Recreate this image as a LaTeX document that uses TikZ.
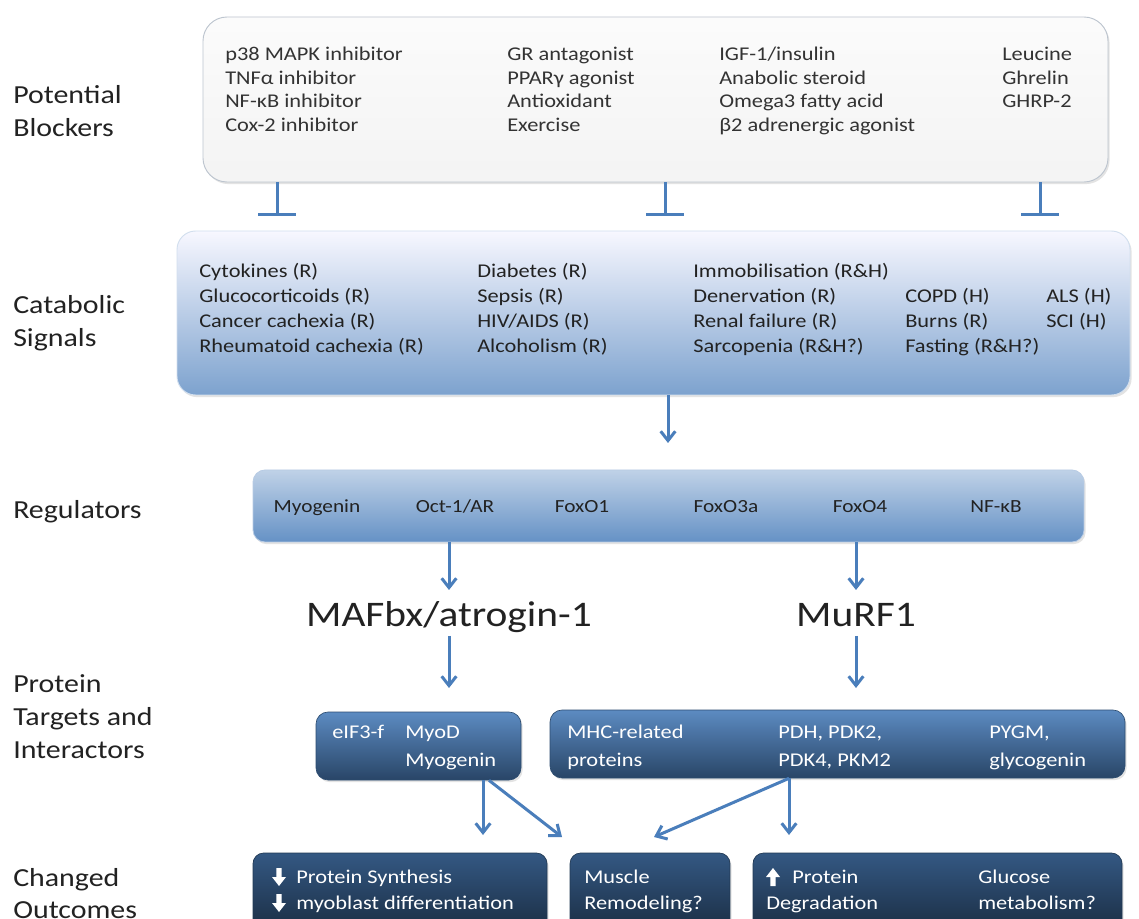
\documentclass[tikz,border=0pt]{standalone}
\usepackage{fontspec}
\setmainfont{Carlito}[FakeStretch=1.15]
\usetikzlibrary{arrows.meta,shadows,fit}
\definecolor{lineblue}{HTML}{4A7EBB}
\definecolor{txtgray}{HTML}{333333}
\definecolor{txtdark}{HTML}{222222}
\begin{document}
\begin{tikzpicture}[x=0.75pt,y=-0.75pt,
  lab/.style={font=\fontsize{19.5}{23}\selectfont, text=txtdark, inner sep=0, anchor=base west},
  txt/.style={font=\fontsize{14.6}{17}\selectfont, text=txtgray, inner sep=0, anchor=base west},
  rtxt/.style={font=\fontsize{13.9}{17}\selectfont, text=txtdark, inner sep=0, anchor=base},
  wtxt/.style={font=\fontsize{14.6}{17}\selectfont, text=white, inner sep=0, anchor=base west},
  big/.style={font=\fontsize{27}{32}\selectfont, text=txtdark, inner sep=1pt, text height=20pt, text depth=6pt},
  arr/.style={draw=lineblue, line width=2.25pt, -{Straight Barb[length=7pt,width=11pt]}},
  blk/.style={draw=lineblue, line width=2.25pt, -{Bar[width=28pt]}},
  boxbase/.style={inner sep=0, drop shadow={opacity=0.22, shadow xshift=1.2pt, shadow yshift=-1.6pt}},
  topbox/.style={boxbase, top color=white!97!gray, bottom color=white!91!gray, draw=lineblue!35!gray!45, line width=0.7pt, rounded corners=18pt},
  catbox/.style={boxbase, top color=white!97!blue, middle color=lineblue!22, bottom color=lineblue!72, draw=lineblue!25, line width=0.7pt, rounded corners=14pt},
  regbox/.style={boxbase, top color=lineblue!35, bottom color=lineblue!85!white, draw=lineblue!40, line width=0.6pt, rounded corners=9pt},
  tgtbox/.style={boxbase, top color=lineblue!90!white, bottom color=lineblue!55!black, draw=lineblue!60!black, line width=0.5pt, rounded corners=9pt},
  outbox/.style={boxbase, top color=lineblue!70!black, bottom color=lineblue!30!black, draw=lineblue!45!black, line width=0.5pt, rounded corners=8pt}
]
\useasboundingbox (0,0) rectangle (1139,919);
\clip (0,0) rectangle (1139,919);
\fill[white] (0,0) rectangle (1139,919);

% row labels
\node[lab] (l1a) at (13,104) {Potential};
\node[lab] (l1b) at (13,137) {Blockers};
\node[lab] (l2a) at (13,314) {Catabolic};
\node[lab] (l2b) at (13,347) {Signals};
\node[lab] (l3)  at (13,519) {Regulators};
\node[lab] (l4a) at (13,692) {Protein};
\node[lab] (l4b) at (13,725) {Targets and};
\node[lab] (l4c) at (13,758) {Interactors};
\node[lab] (l5a) at (13,886) {Changed};
\node[lab] (l5b) at (13,918) {Outcomes};

% boxes
\node[topbox, fit={(203,17) (1108,182)}] (top) {};
\node[catbox, fit={(177,231) (1130,395)}] (cat) {};
\node[regbox, fit={(253,470) (1084,542)}] (reg) {};
\node[tgtbox, fit={(316,712) (521,780)}] (tl) {};
\node[tgtbox, fit={(550,710) (1125,778)}] (tr) {};
\node[outbox, fit={(253,853) (547,945)}] (o1) {};
\node[outbox, fit={(570,853) (730,945)}] (o2) {};
\node[outbox, fit={(753,853) (1122,945)}] (o3) {};

% potential blockers
\foreach \t [count=\i] in {p38 MAPK inhibitor, TNFα inhibitor, NF-κB inhibitor, Cox-2 inhibitor}
  \node[txt] (pa\i) at (225,{37.5+23.5*\i}) {\t};
\foreach \t [count=\i] in {GR antagonist, PPARγ agonist, Antioxidant, Exercise}
  \node[txt] (pb\i) at (507,{37.5+23.5*\i}) {\t};
\foreach \t [count=\i] in {IGF-1/insulin, Anabolic steroid, Omega3 fatty acid, β2 adrenergic agonist}
  \node[txt] (pc\i) at (719,{37.5+23.5*\i}) {\t};
\foreach \t [count=\i] in {Leucine, Ghrelin, GHRP-2}
  \node[txt] (pd\i) at (1002,{37.5+23.5*\i}) {\t};

% catabolic signals
\foreach \t [count=\i] in {Cytokines (R), Glucocorticoids (R), Cancer cachexia (R), Rheumatoid cachexia (R)}
  \node[txt, text=txtdark] (ca\i) at (199,{253+25*\i}) {\t};
\foreach \t [count=\i] in {Diabetes (R), Sepsis (R), HIV/AIDS (R), Alcoholism (R)}
  \node[txt, text=txtdark] (cb\i) at (477,{253+25*\i}) {\t};
\foreach \t [count=\i] in {Immobilisation (R\&H), Denervation (R), Renal failure (R), Sarcopenia (R\&H?)}
  \node[txt, text=txtdark] (cc\i) at (693,{253+25*\i}) {\t};
\foreach \t [count=\i] in {COPD (H), Burns (R), Fasting (R\&H?)}
  \node[txt, text=txtdark] (cd\i) at (905,{278+25*\i}) {\t};
\foreach \t [count=\i] in {ALS (H), SCI (H)}
  \node[txt, text=txtdark] (ce\i) at (1046,{278+25*\i}) {\t};

% regulators
\node[rtxt] (r1) at (317,513) {Myogenin};
\node[rtxt] (r2) at (455,513) {Oct-1/AR};
\node[rtxt] (r3) at (582,513) {FoxO1};
\node[rtxt] (r4) at (726,513) {FoxO3a};
\node[rtxt] (r5) at (860,513) {FoxO4};
\node[rtxt] (r6) at (996,513) {NF-κB};

% ubiquitin ligases
\node[big] (maf) at (449,617) {MAFbx/atrogin-1};
\node[big] (murf) at (856,617) {MuRF1};

% protein targets
\node[wtxt] (g1) at (332,738) {eIF3-f};
\node[wtxt] (g2) at (405,738) {MyoD};
\node[wtxt] (g3) at (405,766) {Myogenin};
\node[wtxt] (g4) at (567,738) {MHC-related};
\node[wtxt] (g5) at (567,766) {proteins};
\node[wtxt] (g6) at (778,738) {PDH, PDK2,};
\node[wtxt] (g7) at (778,766) {PDK4, PKM2};
\node[wtxt] (g8) at (989,738) {PYGM,};
\node[wtxt] (g9) at (989,766) {glycogenin};

% outcomes
\node[wtxt] (h1) at (296,883) {Protein Synthesis};
\node[wtxt] (h2) at (296,909) {myoblast differentiation};
\node[wtxt] (h3) at (584,883) {Muscle};
\node[wtxt] (h4) at (584,909) {Remodeling?};
\node[wtxt] (h5) at (792,883) {Protein};
\node[wtxt] (h6) at (766,909) {Degradation};
\node[wtxt] (h7) at (978,883) {Glucose};
\node[wtxt] (h8) at (978,909) {metabolism?};

% block arrows (down / up)
\foreach \cx/\cy in {279/877, 279/903}
  \fill[white, shift={(\cx,\cy)}] (-2.6,-9) -- (2.6,-9) -- (2.6,0) -- (7,0) -- (0,9) -- (-7,0) -- (-2.6,0) -- cycle;
\fill[white, shift={(773,877)}] (-2.6,9) -- (2.6,9) -- (2.6,0) -- (7,0) -- (0,-9) -- (-7,0) -- (-2.6,0) -- cycle;

% inhibition bars
\coordinate (b1) at (277,216);
\coordinate (b2) at (665,216);
\coordinate (b3) at (1040,216);
\foreach \b in {b1,b2,b3} \draw[blk] (\b |- top.south) -- (\b);

% arrows
\coordinate (t0) at (668,443);
\draw[arr] (t0 |- cat.south) -- (t0);
\coordinate (t1) at (449,590);
\draw[arr] (t1 |- reg.south) -- (t1);
\coordinate (t2) at (856,590);
\draw[arr] (t2 |- reg.south) -- (t2);
\coordinate (t3) at (449,688);
\draw[arr] (maf.south) -- (t3);
\coordinate (t4) at (856,688);
\draw[arr] (murf.south) -- (t4);
\coordinate (t5) at (483,835);
\draw[arr] (t5 |- tl.south) -- (t5);
\coordinate (s6) at (489,0);
\coordinate (t6) at (562,837);
\draw[arr] (s6 |- tl.south) -- (t6);
\coordinate (s7) at (789,0);
\coordinate (t7) at (654,837);
\draw[arr] (s7 |- tr.south) -- (t7);
\coordinate (t8) at (789,835);
\draw[arr] (t8 |- tr.south) -- (t8);
\end{tikzpicture}
\end{document}
